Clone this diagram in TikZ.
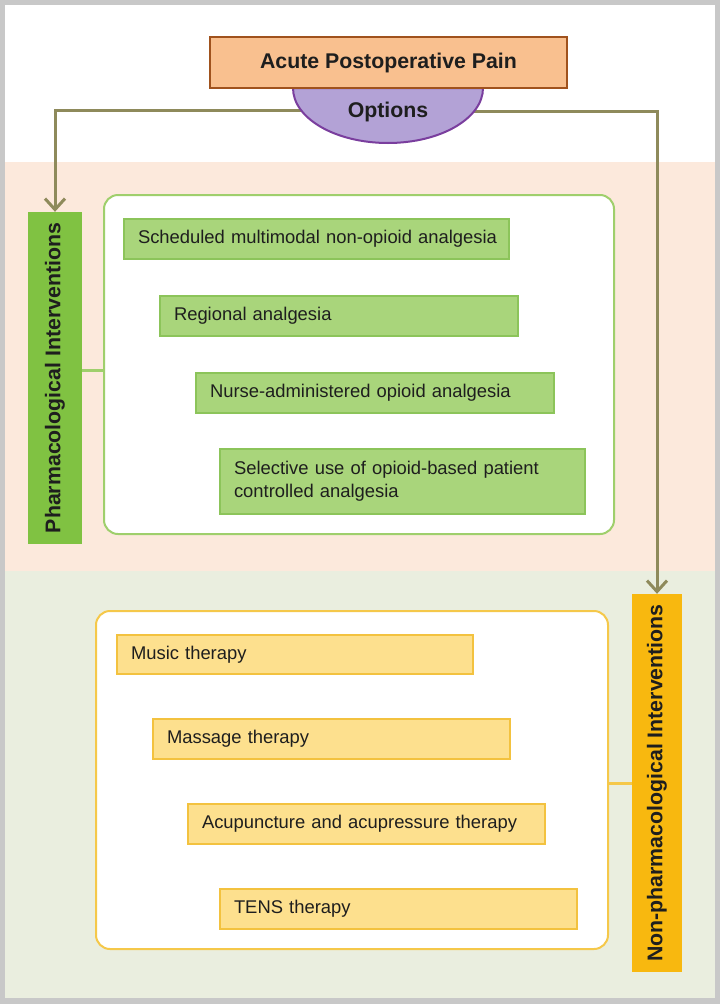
\documentclass[tikz,border=0pt]{standalone}
\usepackage{fontspec}
\setmainfont{Liberation Sans}
\usetikzlibrary{arrows.meta}
\definecolor{bggray}{HTML}{C8C8C8}
\definecolor{pinkbg}{HTML}{FCE9DC}
\definecolor{greenbg}{HTML}{EAEEDF}
\definecolor{titlefill}{HTML}{F9C08F}
\definecolor{titledraw}{HTML}{A0521D}
\definecolor{optfill}{HTML}{B3A2D6}
\definecolor{optdraw}{HTML}{7A3E9E}
\definecolor{arrowcol}{HTML}{8E8A5B}
\definecolor{glabel}{HTML}{80C242}
\definecolor{gitemfill}{HTML}{A9D57B}
\definecolor{gitemdraw}{HTML}{8CC45A}
\definecolor{gcontdraw}{HTML}{9FCF6C}
\definecolor{olabel}{HTML}{F8B80F}
\definecolor{oitemfill}{HTML}{FDE08E}
\definecolor{oitemdraw}{HTML}{F3C23F}
\definecolor{ocontdraw}{HTML}{F5C84A}
\definecolor{txt}{HTML}{1E1E1E}
\tikzset{
  itemfont/.style={font=\fontsize{18.4}{23}\selectfont, text=txt},
  boldfont/.style={font=\fontsize{21.3}{25}\selectfont\bfseries, text=txt},
  gitem/.style={itemfont, draw=gitemdraw, fill=gitemfill, line width=2pt, anchor=north west,
     inner xsep=14pt, inner ysep=0pt, align=left},
  oitem/.style={itemfont, draw=oitemdraw, fill=oitemfill, line width=2pt, anchor=north west,
     inner xsep=14pt, inner ysep=0pt, align=left},
  contbox/.style={fill=white, line width=2pt, rounded corners=14pt, anchor=north west, inner sep=0pt},
  vlabel/.style={boldfont, rotate=90, inner sep=0pt},
  arr/.style={draw=arrowcol, line width=3pt, -{Straight Barb[length=11pt,width=20pt,line width=3pt]}},
}
\begin{document}
\begin{tikzpicture}[x=1pt,y=-1pt]
\useasboundingbox (0,0) rectangle (720,1004);
% backgrounds
\fill[bggray] (0,0) rectangle (720,1004);
\fill[white] (5,5) rectangle (715,162);
\fill[pinkbg] (5,162) rectangle (715,571);
\fill[greenbg] (5,571) rectangle (715,998);

% vertical labels
\node[vlabel, fill=glabel, minimum width=332pt, minimum height=54pt] (pharm) at (55,378) {Pharmacological Interventions};
\node[vlabel, fill=olabel, minimum width=378pt, minimum height=50pt] (nonpharm) at (657,783) {Non-pharmacological Interventions};

% containers
\node[contbox, draw=gcontdraw, minimum width=510pt, minimum height=339pt] (cont1) at (103,194) {};
\node[contbox, draw=ocontdraw, minimum width=512pt, minimum height=338pt] (cont2) at (95,610) {};

% connectors between labels and containers
\coordinate (c1y) at (0,370);
\draw[gcontdraw, line width=3pt] (pharm.south |- c1y) -- (cont1.west |- c1y);
\draw[ocontdraw, line width=3pt] (nonpharm.north) -- (cont2.east |- nonpharm.north);

% items pharmacological
\node[gitem, minimum width=385pt, minimum height=40pt, text width=357pt] (g1) at (123,218) {\mbox{Scheduled multimodal non-opioid analgesia}};
\node[gitem, minimum width=358pt, minimum height=40pt, text width=330pt] (g2) at (159,295) {\mbox{Regional analgesia}};
\node[gitem, minimum width=358pt, minimum height=40pt, text width=330pt] (g3) at (195,372) {\mbox{Nurse-administered opioid analgesia}};
\node[gitem, minimum width=365pt, minimum height=65pt, text width=337pt] (g4) at (219,448) {\mbox{Selective use of opioid-based patient}\\\mbox{controlled analgesia}};

% items non-pharmacological
\node[oitem, minimum width=356pt, minimum height=39pt, text width=328pt] (o1) at (116,634) {\mbox{Music therapy}};
\node[oitem, minimum width=357pt, minimum height=40pt, text width=329pt] (o2) at (152,718) {\mbox{Massage therapy}};
\node[oitem, minimum width=357pt, minimum height=40pt, text width=329pt] (o3) at (187,803) {\mbox{Acupuncture and acupressure therapy}};
\node[oitem, minimum width=357pt, minimum height=40pt, text width=329pt] (o4) at (219,888) {\mbox{TENS therapy}};

% arrows from options
\coordinate (optL) at (388,110);
\coordinate (optR) at (388,111);
\draw[arr] (optL) -| (pharm.east);
\draw[arr] (optR) -| (nonpharm.east);

% options half ellipse
\draw[draw=optdraw, fill=optfill, line width=2pt] (293,88) arc[start angle=180, end angle=360, x radius=95pt, y radius=55pt] -- cycle;
\node[boldfont] (opt) at (388,112) {Options};

% title
\node[boldfont, draw=titledraw, fill=titlefill, line width=2pt, minimum width=357pt, minimum height=51pt, inner sep=0pt] (title) at (388.5,62.5) {Acute Postoperative Pain};
\end{tikzpicture}
\end{document}
